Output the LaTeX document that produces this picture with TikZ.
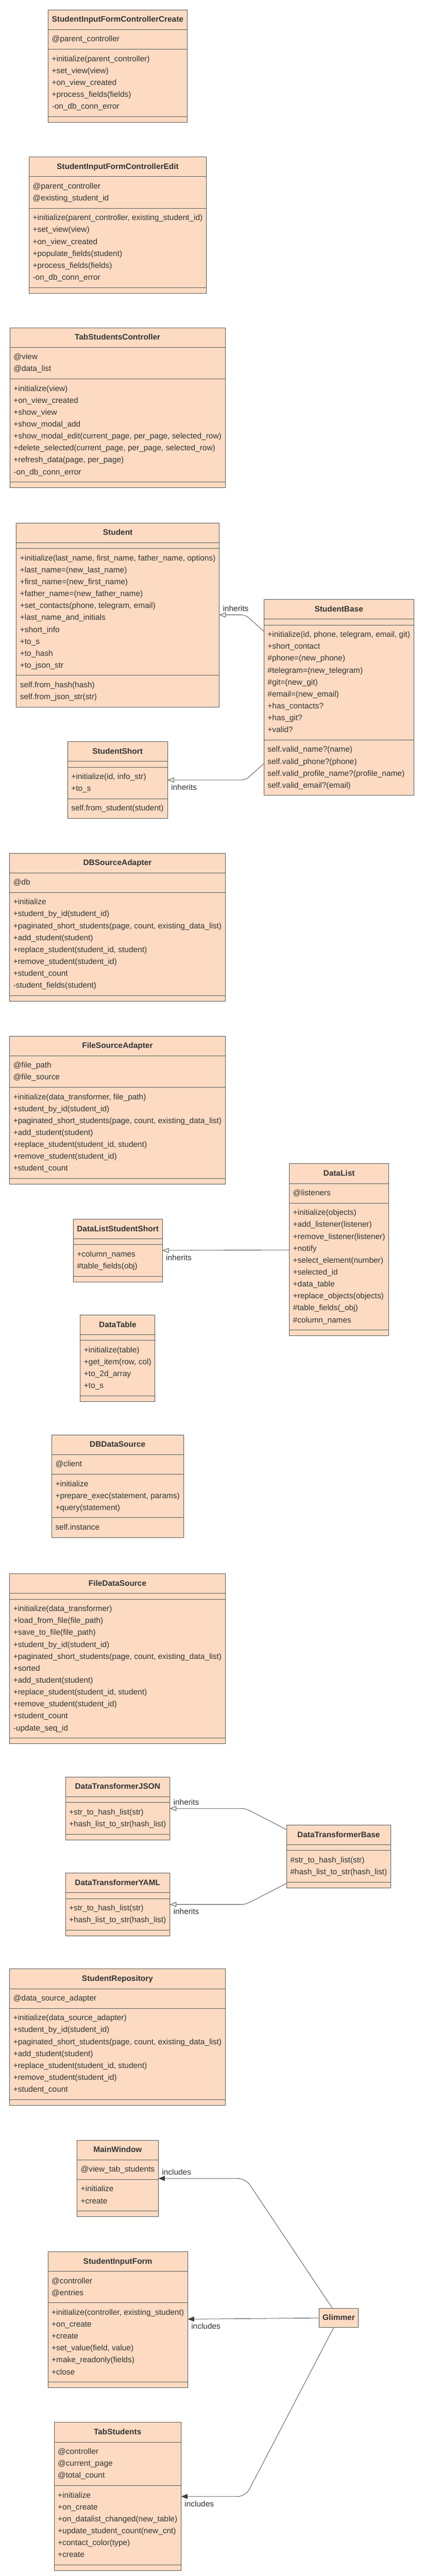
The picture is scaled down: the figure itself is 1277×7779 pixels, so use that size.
\documentclass[tikz,border=0pt]{standalone}
\usepackage{fontspec}
\setmainfont{Liberation Sans}
\usetikzlibrary{shapes.multipart,arrows.meta,positioning}

\definecolor{peach}{RGB}{253,219,194}
\definecolor{boxline}{RGB}{85,85,85}
\definecolor{wire}{RGB}{60,60,60}
\definecolor{ink}{RGB}{51,51,51}
\definecolor{tipfill}{RGB}{240,236,220}

\newcommand{\umlfont}{\fontsize{24}{36}\selectfont}
\newcommand{\umlrows}[1]{\rule{0pt}{30.7pt}#1\rule[-16.3pt]{0pt}{0pt}}

\tikzset{
  umlclass/.style={rectangle split, rectangle split parts=4,
    rectangle split part align={center,left,left,left},
    rectangle split empty part height=0pt, rectangle split empty part depth=0pt,
    draw=boxline, fill=peach, line width=1.3pt, text=ink, font=\umlfont,
    align=left, inner xsep=11pt, inner ysep=5.5pt, anchor=north west,
    minimum width=#1},
  umlbox/.style={draw=boxline, fill=peach, line width=1.3pt, text=ink,
    font=\umlfont\bfseries, inner xsep=11pt, inner ysep=5.5pt, anchor=north west},
  inheritline/.style={draw=wire, line width=1.2pt, rounded corners=12pt,
    -{Triangle[length=19pt, width=15pt, fill=tipfill]}},
  includeline/.style={draw=wire, line width=1.2pt, rounded corners=24pt,
    -{Triangle[length=19pt, width=15pt]}},
  lbl/.style={font=\umlfont, text=ink, inner sep=0pt}
}

\begin{document}
\begin{tikzpicture}[x=1pt, y=-1pt]
\useasboundingbox (0,0) rectangle (1277,7779);
\coordinate (rank) at (741.5,0);

% controllers
\node[umlclass=418.4pt] (Create) at (144.9,29.1) {\umlrows{\textbf{StudentInputFormControllerCreate}}%
  \nodepart{two}\umlrows{@parent\_controller}%
  \nodepart{three}\umlrows{+initialize(parent\_controller)\\+set\_view(view)\\+on\_view\_created\\+process\_fields(fields)\\-on\_db\_conn\_error}%
  \nodepart{four}};
\node[umlclass=534.3pt] (Edit) at (87.3,473.5) {\umlrows{\textbf{StudentInputFormControllerEdit}}%
  \nodepart{two}\umlrows{@parent\_controller\\@existing\_student\_id}%
  \nodepart{three}\umlrows{+initialize(parent\_controller, existing\_student\_id)\\+set\_view(view)\\+on\_view\_created\\+populate\_fields(student)\\+process\_fields(fields)\\-on\_db\_conn\_error}%
  \nodepart{four}};
\node[umlclass=649pt] (TabStudentsController) at (29.4,988.8) {\umlrows{\textbf{TabStudentsController}}%
  \nodepart{two}\umlrows{@view\\@data\_list}%
  \nodepart{three}\umlrows{+initialize(view)\\+on\_view\_created\\+show\_view\\+show\_modal\_add\\+show\_modal\_edit(current\_page, per\_page, selected\_row)\\+delete\_selected(current\_page, per\_page, selected\_row)\\+refresh\_data(page, per\_page)\\-on\_db\_conn\_error}%
  \nodepart{four}};

% students
\node[umlclass=611.6pt] (Student) at (48.9,1578.6) {\umlrows{\textbf{Student}}%
  \nodepart{two}%
  \nodepart{three}\umlrows{+initialize(last\_name, first\_name, father\_name, options)\\+last\_name=(new\_last\_name)\\+first\_name=(new\_first\_name)\\+father\_name=(new\_father\_name)\\+set\_contacts(phone, telegram, email)\\+last\_name\_and\_initials\\+short\_info\\+to\_s\\+to\_hash\\+to\_json\_str}%
  \nodepart{four}\umlrows{self.from\_hash(hash)\\self.from\_json\_str(str)}};
\node[umlclass=452pt] (StudentBase) at (796.5,1809.6) {\umlrows{\textbf{StudentBase}}%
  \nodepart{two}%
  \nodepart{three}\umlrows{+initialize(id, phone, telegram, email, git)\\+short\_contact\\\#phone=(new\_phone)\\\#telegram=(new\_telegram)\\\#git=(new\_git)\\\#email=(new\_email)\\+has\_contacts?\\+has\_git?\\+valid?}%
  \nodepart{four}\umlrows{self.valid\_name?(name)\\self.valid\_phone?(phone)\\self.valid\_profile\_name?(profile\_name)\\self.valid\_email?(email)}};
\node[umlclass=301.3pt] (StudentShort) at (203.6,2238.9) {\umlrows{\textbf{StudentShort}}%
  \nodepart{two}%
  \nodepart{three}\umlrows{+initialize(id, info\_str)\\+to\_s}%
  \nodepart{four}\umlrows{self.from\_student(student)}};

% adapters
\node[umlclass=650.7pt] (DBSourceAdapter) at (28.5,2575.6) {\umlrows{\textbf{DBSourceAdapter}}%
  \nodepart{two}\umlrows{@db}%
  \nodepart{three}\umlrows{+initialize\\+student\_by\_id(student\_id)\\+paginated\_short\_students(page, count, existing\_data\_list)\\+add\_student(student)\\+replace\_student(student\_id, student)\\+remove\_student(student\_id)\\+student\_count\\-student\_fields(student)}%
  \nodepart{four}};
\node[umlclass=650.7pt] (FileSourceAdapter) at (28.5,3128.1) {\umlrows{\textbf{FileSourceAdapter}}%
  \nodepart{two}\umlrows{@file\_path\\@file\_source}%
  \nodepart{three}\umlrows{+initialize(data\_transformer, file\_path)\\+student\_by\_id(student\_id)\\+paginated\_short\_students(page, count, existing\_data\_list)\\+add\_student(student)\\+replace\_student(student\_id, student)\\+remove\_student(student\_id)\\+student\_count}%
  \nodepart{four}};

% data lists
\node[umlclass=299.6pt] (DataList) at (873.1,3513.6) {\umlrows{\textbf{DataList}}%
  \nodepart{two}\umlrows{@listeners}%
  \nodepart{three}\umlrows{+initialize(objects)\\+add\_listener(listener)\\+remove\_listener(listener)\\+notify\\+select\_element(number)\\+selected\_id\\+data\_table\\+replace\_objects(objects)\\\#table\_fields(\_obj)\\\#column\_names}%
  \nodepart{four}};
\node[umlclass=267.9pt] (DataListStudentShort) at (220.7,3681) {\umlrows{\textbf{DataListStudentShort}}%
  \nodepart{two}%
  \nodepart{three}\umlrows{+column\_names\\\#table\_fields(obj)}%
  \nodepart{four}};
\node[umlclass=225.6pt] (DataTable) at (241.9,3970.4) {\umlrows{\textbf{DataTable}}%
  \nodepart{two}%
  \nodepart{three}\umlrows{+initialize(table)\\+get\_item(row, col)\\+to\_2d\_array\\+to\_s}%
  \nodepart{four}};

% data sources
\node[umlclass=396.6pt] (DBDataSource) at (155.6,4332.5) {\umlrows{\textbf{DBDataSource}}%
  \nodepart{two}\umlrows{@client}%
  \nodepart{three}\umlrows{+initialize\\+prepare\_exec(statement, params)\\+query(statement)}%
  \nodepart{four}\umlrows{self.instance}};
\node[umlclass=650.7pt] (FileDataSource) at (28.5,4751.5) {\umlrows{\textbf{FileDataSource}}%
  \nodepart{two}%
  \nodepart{three}\umlrows{+initialize(data\_transformer)\\+load\_from\_file(file\_path)\\+save\_to\_file(file\_path)\\+student\_by\_id(student\_id)\\+paginated\_short\_students(page, count, existing\_data\_list)\\+sorted\\+add\_student(student)\\+replace\_student(student\_id, student)\\+remove\_student(student\_id)\\+student\_count\\-update\_seq\_id}%
  \nodepart{four}};

% transformers
\node[umlclass=313.5pt] (DataTransformerJSON) at (197.1,5365.7) {\umlrows{\textbf{DataTransformerJSON}}%
  \nodepart{two}%
  \nodepart{three}\umlrows{+str\_to\_hash\_list(str)\\+hash\_list\_to\_str(hash\_list)}%
  \nodepart{four}};
\node[umlclass=314.4pt] (DataTransformerBase) at (864.9,5510.6) {\umlrows{\textbf{DataTransformerBase}}%
  \nodepart{two}%
  \nodepart{three}\umlrows{\#str\_to\_hash\_list(str)\\\#hash\_list\_to\_str(hash\_list)}%
  \nodepart{four}};
\node[umlclass=313.5pt] (DataTransformerYAML) at (197.1,5655.5) {\umlrows{\textbf{DataTransformerYAML}}%
  \nodepart{two}%
  \nodepart{three}\umlrows{+str\_to\_hash\_list(str)\\+hash\_list\_to\_str(hash\_list)}%
  \nodepart{four}};

\node[umlclass=650.7pt] (StudentRepository) at (28.5,5945.4) {\umlrows{\textbf{StudentRepository}}%
  \nodepart{two}\umlrows{@data\_source\_adapter}%
  \nodepart{three}\umlrows{+initialize(data\_source\_adapter)\\+student\_by\_id(student\_id)\\+paginated\_short\_students(page, count, existing\_data\_list)\\+add\_student(student)\\+replace\_student(student\_id, student)\\+remove\_student(student\_id)\\+student\_count}%
  \nodepart{four}};

% views
\node[umlclass=244.3pt] (MainWindow) at (232.1,6462) {\umlrows{\textbf{MainWindow}}%
  \nodepart{two}\umlrows{@view\_tab\_students}%
  \nodepart{three}\umlrows{+initialize\\+create}%
  \nodepart{four}};
\node[umlclass=421pt] (StudentInputForm) at (144.2,6798.7) {\umlrows{\textbf{StudentInputForm}}%
  \nodepart{two}\umlrows{@controller\\@entries}%
  \nodepart{three}\umlrows{+initialize(controller, existing\_student)\\+on\_create\\+create\\+set\_value(field, value)\\+make\_readonly(fields)\\+close}%
  \nodepart{four}};
\node[umlclass=381.9pt] (TabStudents) at (162.9,7314.4) {\umlrows{\textbf{TabStudents}}%
  \nodepart{two}\umlrows{@controller\\@current\_page\\@total\_count}%
  \nodepart{three}\umlrows{+initialize\\+on\_create\\+on\_datalist\_changed(new\_table)\\+update\_student\_count(new\_cnt)\\+contact\_color(type)\\+create}%
  \nodepart{four}};
\node[umlbox] (Glimmer) at (962.6,6969.6) {\umlrows{Glimmer}};

% inheritance
\draw[inheritline] (StudentBase) -- (Student.east -| rank) -- node[lbl, pos=1, above right=10pt and 10pt] {inherits} (Student.east);
\draw[inheritline] (StudentBase) -- (StudentShort.east -| rank) -- node[lbl, pos=1, below right=12pt and 10pt] {inherits} (StudentShort.east);
\draw[inheritline] (DataList) -- node[lbl, pos=1, below right=12pt and 10pt] {inherits} (DataListStudentShort);
\draw[inheritline] (DataTransformerBase) -- (DataTransformerJSON.east -| rank) -- node[lbl, pos=1, above right=10pt and 10pt] {inherits} (DataTransformerJSON.east);
\draw[inheritline] (DataTransformerBase) -- (DataTransformerYAML.east -| rank) -- node[lbl, pos=1, below right=12pt and 10pt] {inherits} (DataTransformerYAML.east);

% glimmer
\draw[includeline] (Glimmer) -- (MainWindow.east -| rank) -- node[lbl, pos=1, above right=10pt and 10pt] {includes} (MainWindow.east);
\draw[includeline] (Glimmer) -- node[lbl, pos=1, below right=12pt and 10pt] {includes} (StudentInputForm);
\draw[includeline] (Glimmer) -- (TabStudents.east -| rank) -- node[lbl, pos=1, below right=13pt and 10pt] {includes} (TabStudents.east);
\end{tikzpicture}
\end{document}
